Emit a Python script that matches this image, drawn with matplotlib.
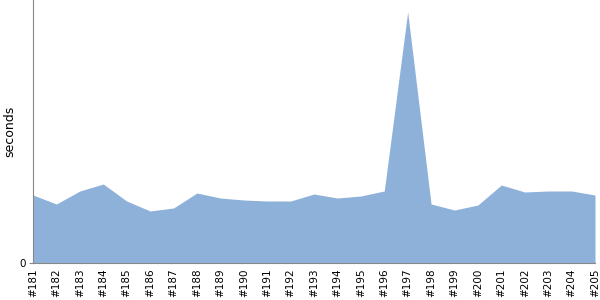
import matplotlib
matplotlib.use("Agg")
import matplotlib.pyplot as plt
import numpy as np

builds = ["#%d" % n for n in range(181, 206)]
seconds = [6.8, 5.9, 7.2, 7.9, 6.2, 5.2, 5.5, 7.0, 6.5, 6.3, 6.2, 6.2, 6.9,
           6.5, 6.7, 7.2, 25.1, 5.9, 5.3, 5.8, 7.8, 7.1, 7.2, 7.2, 6.8]

fig = plt.figure(figsize=(6, 3), dpi=100)
ax = fig.add_axes([33/600, 37/300, 562/600, 263/300])
x = np.arange(len(builds))
ax.fill_between(x, 0, seconds, color="#8eb1da", linewidth=0)
ax.set_xlim(0, len(builds) - 1)
ax.set_ylim(0, 26.3)
ax.set_xticks(x)
ax.set_xticklabels(builds, rotation=90, fontsize=7.5)
ax.set_yticks([0])
ax.set_yticklabels(["0"], fontsize=7.5)
ax.tick_params(axis="x", length=0, pad=4)
ax.tick_params(axis="y", length=3, color="#888888", pad=2)
for s in ["top", "right"]:
    ax.spines[s].set_visible(False)
for s in ["left", "bottom"]:
    ax.spines[s].set_color("#888888")
ax.set_ylabel("seconds", fontsize=9)
ax.yaxis.set_label_coords(-17/562, 0.5)
fig.savefig("out.png", dpi=100)
